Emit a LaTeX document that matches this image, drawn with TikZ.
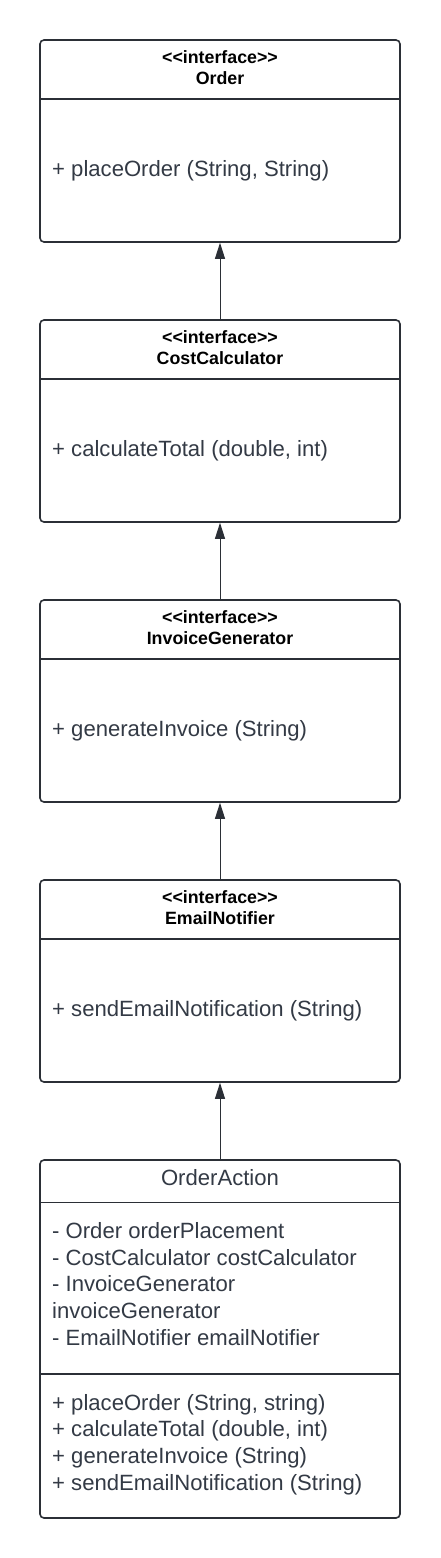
\documentclass[tikz,border=0pt]{standalone}
\usepackage{fontspec}
\setmainfont{Liberation Sans}
\usetikzlibrary{arrows.meta}
\definecolor{linec}{HTML}{2B2F36}
\definecolor{textc}{HTML}{333A45}
\tikzset{
 classbox/.style={draw=linec, line width=1.6pt, rounded corners=4pt, fill=white, minimum width=360pt, inner sep=0pt, outer sep=0pt, anchor=north west},
 stereo/.style={font=\fontsize{17.8}{21}\selectfont\bfseries, text=black, anchor=base, inner sep=0pt},
 classname/.style={font=\fontsize{22.1}{26.67}\selectfont, text=textc, anchor=base, inner sep=0pt},
 member/.style={font=\fontsize{22.1}{26.67}\selectfont, text=textc, anchor=base west, inner sep=0pt},
 divider/.style={draw=linec, line width=1.6pt},
 inherit/.style={draw=linec, line width=1pt, -{Triangle[length=16pt,width=10pt]}, shorten >=0.8pt}
}
\begin{document}
\begin{tikzpicture}[x=1pt,y=-1pt]
\useasboundingbox (0,0) rectangle (440,1558);
% Order
\node[classbox, minimum height=202pt] (order) at (40,40) {};
\node[stereo] (orderS) at (220,63.3) {<{}<interface>{}>};
\node[stereo] (orderN) at (220,84.3) {Order};
\draw[divider] (40,99) -- (400,99);
\node[member] (orderM) at (52,176.7) {+ placeOrder (String, String)};
% CostCalculator
\node[classbox, minimum height=202pt] (cost) at (40,320) {};
\node[stereo] (costS) at (220,343.3) {<{}<interface>{}>};
\node[stereo] (costN) at (220,364.3) {CostCalculator};
\draw[divider] (40,379) -- (400,379);
\node[member] (costM) at (52,456.7) {+ calculateTotal (double, int)};
% InvoiceGenerator
\node[classbox, minimum height=202pt] (invoice) at (40,600) {};
\node[stereo] (invoiceS) at (220,623.3) {<{}<interface>{}>};
\node[stereo] (invoiceN) at (220,644.3) {InvoiceGenerator};
\draw[divider] (40,659) -- (400,659);
\node[member] (invoiceM) at (52,736.7) {+ generateInvoice (String)};
% EmailNotifier
\node[classbox, minimum height=202pt] (email) at (40,880) {};
\node[stereo] (emailS) at (220,903.3) {<{}<interface>{}>};
\node[stereo] (emailN) at (220,924.3) {EmailNotifier};
\draw[divider] (40,939) -- (400,939);
\node[member] (emailM) at (52,1016.7) {+ sendEmailNotification (String)};
% OrderAction
\node[classbox, minimum height=358pt] (action) at (40,1160) {};
\node[classname] (actionN) at (220,1185.7) {OrderAction};
\draw[divider] (40,1202.5) -- (400,1202.5);
\node[member] (a1) at (52,1238.3) {- Order orderPlacement};
\node[member] (a2) at (52,1265.0) {- CostCalculator costCalculator};
\node[member] (a3) at (52,1291.7) {- InvoiceGenerator};
\node[member] (a4) at (52,1318.3) {invoiceGenerator};
\node[member] (a5) at (52,1345.0) {- EmailNotifier emailNotifier};
\draw[divider] (40,1374) -- (400,1374);
\node[member] (m1) at (52,1410.0) {+ placeOrder (String, string)};
\node[member] (m2) at (52,1436.7) {+ calculateTotal (double, int)};
\node[member] (m3) at (52,1463.3) {+ generateInvoice (String)};
\node[member] (m4) at (52,1490.0) {+ sendEmailNotification (String)};
% connectors
\draw[inherit] (cost.north) -- (order.south);
\draw[inherit] (invoice.north) -- (cost.south);
\draw[inherit] (email.north) -- (invoice.south);
\draw[inherit] (action.north) -- (email.south);
\end{tikzpicture}
\end{document}
